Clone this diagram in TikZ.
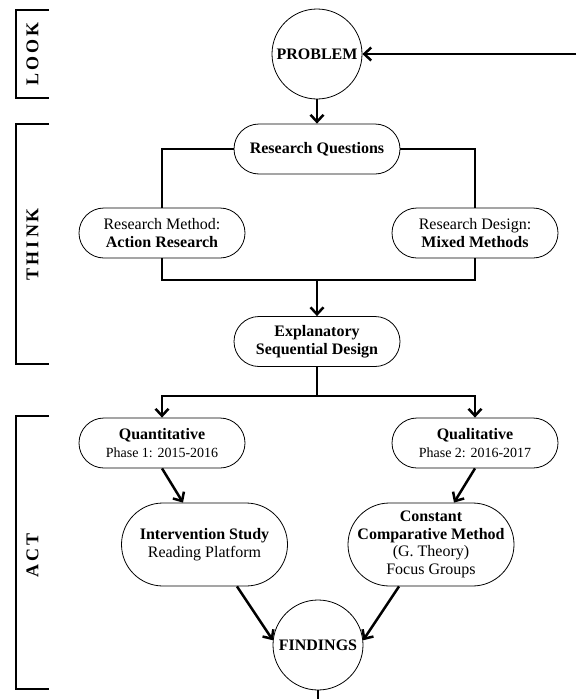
\documentclass[tikz,border=0pt]{standalone}
\usepackage{fontspec}
\setmainfont{Liberation Serif}
\usetikzlibrary{arrows.meta}
\newcommand{\phaseline}[1]{{\fontsize{14}{16}\selectfont #1}}
\newcommand{\gap}{\kern3pt}

\begin{document}
\begin{tikzpicture}[x=1pt, y=-1pt, thick,
  font=\fontsize{16}{17.7}\selectfont,
  link/.style={line width=2.5pt},
  conn/.style={link, -{Straight Barb[length=7pt,width=13pt]}},
  bracket/.style={line width=2.5pt},
  pill/.style={draw, line width=0.8pt, rectangle, rounded corners=25pt, minimum width=166pt, minimum height=50pt, inner sep=0pt, align=center},
  tallpill/.style={pill, rounded corners=41.5pt, minimum height=83pt},
  bubble/.style={draw, line width=0.8pt, circle, minimum size=90pt, inner sep=0pt, font=\fontsize{16}{17.7}\selectfont\bfseries},
  stage/.style={rotate=90, font=\fontsize{18}{19}\selectfont\bfseries}]
\useasboundingbox (0,0) rectangle (576,699);
%%%%% Stages %%%%%
\draw[bracket] (49,10) -- (16,10) -- (16,98) -- (49,98);
\draw[bracket] (49,124) -- (16,124) -- (16,364) -- (49,364);
\draw[bracket] (49,416) -- (16,416) -- (16,689) -- (49,689);
\node[stage] (look) at (32.5,54) {L\gap O\gap O\gap K};
\node[stage] (think) at (32.5,244) {T\gap H\gap I\gap N\gap K};
\node[stage] (act) at (32.5,555) {A\gap C\gap T};
%%%%% Nodes %%%%%
\node[bubble] (problem) at (317,54) {PROBLEM};
\node[pill] (questions) at (317,149) {\textbf{Research Questions}};
\node[pill] (method) at (162,233) {Research Method:\\\textbf{Action Research}};
\node[pill] (design) at (475,233) {Research Design:\\\textbf{Mixed Methods}};
\node[pill] (explan) at (317,341.5) {\textbf{Explanatory}\\\textbf{Sequential Design}};
\node[pill] (quant) at (162,443) {\textbf{Quantitative}\\\phaseline{Phase 1: 2015-2016}};
\node[pill] (qual) at (475,443) {\textbf{Qualitative}\\\phaseline{Phase 2: 2016-2017}};
\node[tallpill] (interv) at (204.5,544.5) {\textbf{Intervention Study}\\Reading Platform};
\node[tallpill] (constant) at (431,544.5) {\textbf{Constant}\\\textbf{Comparative Method}\\(G. Theory)\\Focus Groups};
\node[bubble] (findings) at (318,645) {FINDINGS};
\coordinate (loopin) at (576,54);
\coordinate (loopout) at (318,699);
\coordinate (merge) at (317,280);
\coordinate (split) at (317,396);
%%%%% Connectors %%%%%
\draw[conn] (loopin) -- (problem);
\draw[conn] (problem) -- (questions);
\draw[link] (questions.west) -| (method.north);
\draw[link] (questions.east) -| (design.north);
\draw[link] (method.south) |- (merge) -| (design.south);
\draw[conn] (merge) -- (explan);
\draw[link] (explan) -- (split);
\draw[conn] (split) -| (quant.north);
\draw[conn] (split) -| (qual.north);
\draw[conn] (quant.south) -- ([xshift=-21.5pt]interv.north);
\draw[conn] (qual.south) -- ([xshift=23pt]constant.north);
\draw[conn] ([xshift=32.5pt]interv.south) -- (findings.174);
\draw[conn] ([xshift=-32pt]constant.south) -- (findings.6);
\draw[link] (findings) -- (loopout);
\end{tikzpicture}
\end{document}
